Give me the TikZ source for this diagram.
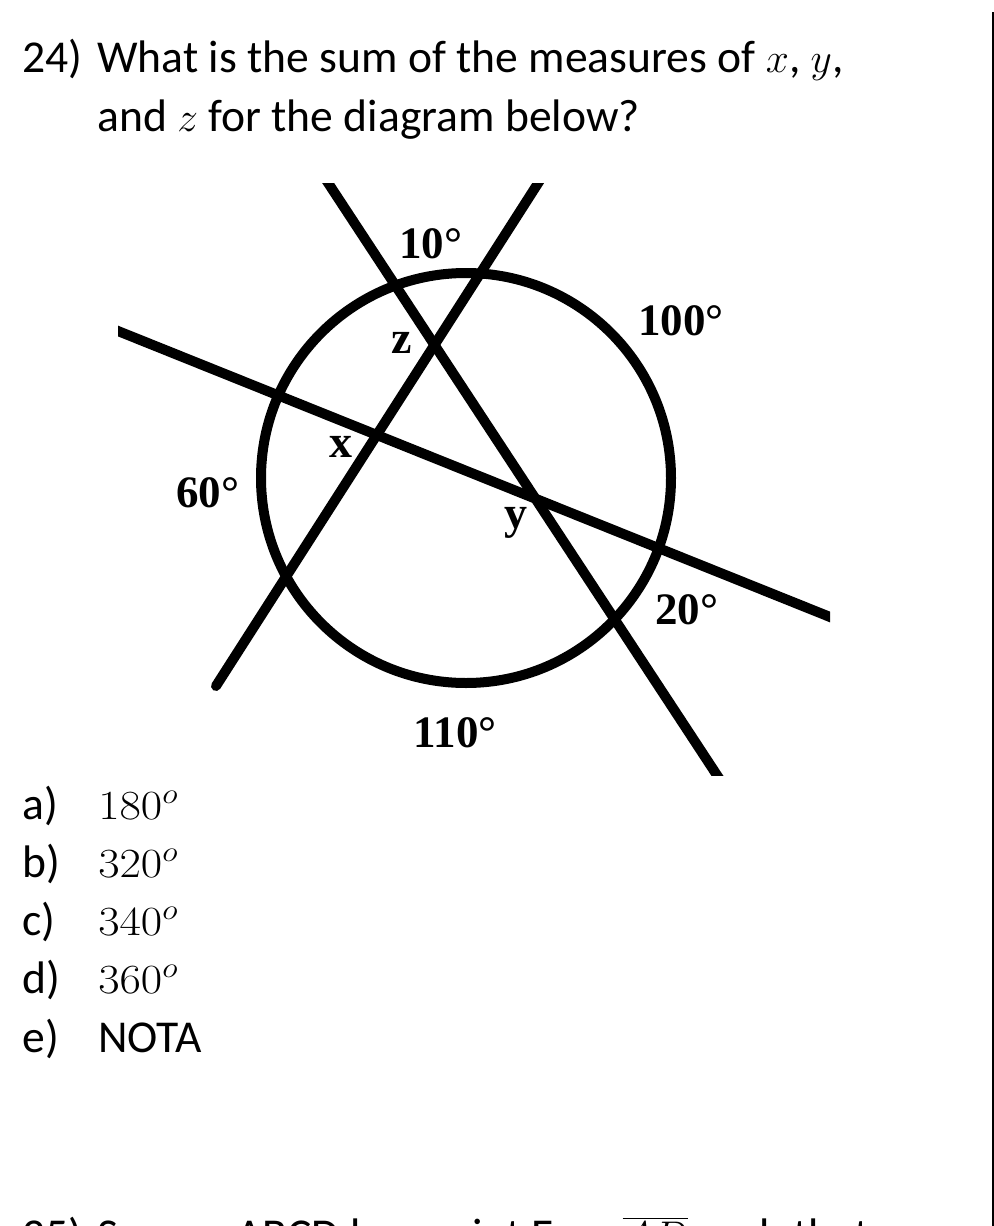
\documentclass[tikz,border=0pt]{standalone}
\usepackage{fontspec}
\setmainfont{Carlito}
\newfontfamily\tnr{Liberation Serif}
\usetikzlibrary{calc}
\tikzset{
  ln/.style = {draw=black, line width=5pt, line cap=round},
  cir/.style = {draw=black, line width=5pt},
  ang/.style = {font=\tnr\bfseries\fontsize{22.5}{25}\selectfont, inner sep=0pt},
  var/.style = {font=\tnr\bfseries\fontsize{23}{25}\selectfont, inner sep=0pt},
  qtxt/.style = {font=\fontsize{22.8}{27}\selectfont, inner sep=0pt,
    anchor=base west},
  val/.style = {font=\fontsize{21.5}{25}\selectfont, inner sep=0pt,
    anchor=base west},
  rule/.style = {draw=black, line width=1pt}
}

\begin{document}
\begin{tikzpicture}[x=0.5pt, y=-0.5pt]
  \useasboundingbox (0,0) rectangle (994,1226);

  \node [qtxt] (qn) at (22,72) {24)};
  \node [qtxt] (q1) at (97,72) {What is the sum of the measures of $x$, $y$,};
  \node [qtxt] (q2) at (97,131) {and $z$ for the diagram below?};

  \coordinate (c0) at (466,478);
  \coordinate (a1) at (315,163);
  \coordinate (a2) at (730,795);
  \coordinate (b1) at (551,163);
  \coordinate (b2) at (216,686);
  \coordinate (s1) at (98,323);
  \coordinate (s2) at (850,625);
  \begin{scope}
    \clip (118,183) rectangle (830,775);
    \draw [ln] (a1) -- (a2);
    \draw [ln] (b1) -- (b2);
    \draw [ln] (s1) -- (s2);
  \end{scope}
  \draw [cir] (c0) circle [radius=102.5pt];

  \node [ang] (t10) at (430.5,244) {10°};
  \node [ang] (t100) at (681,320.5) {100°};
  \node [ang] (t60) at (207.5,492.5) {60°};
  \node [ang] (t20) at (686.5,610) {20°};
  \node [ang] (t110) at (455,733) {110°};
  \node [var] (vx) at (341,446.5) {x};
  \node [var] (vy) at (516,522.5) {y};
  \node [var] (vz) at (402,343) {z};

  \foreach \l/\v/\y in {a/180/819, b/320/877, c/340/935, d/360/993} {
    \node [qtxt] (o\l) at (22,\y) {\l)};
    \node [val] (n\l) at (98,\y) {\scalebox{1.12}[1]{$\v^{o}$}};
  }
  \node [qtxt] (oe) at (22,1052) {e)};
  \node [qtxt] (ne) at (98,1052) {NOTA};

  \node [qtxt] (pn) at (22,1250) {25)};
  \node [qtxt] (p1) at (97,1250) {Square ABCD has point E on $\overline{AD}$ such that};

  \coordinate (r1) at (992.5,12);
  \coordinate (r2) at (992.5,1230);
  \draw [rule] (r1) -- (r2);
\end{tikzpicture}
\end{document}
